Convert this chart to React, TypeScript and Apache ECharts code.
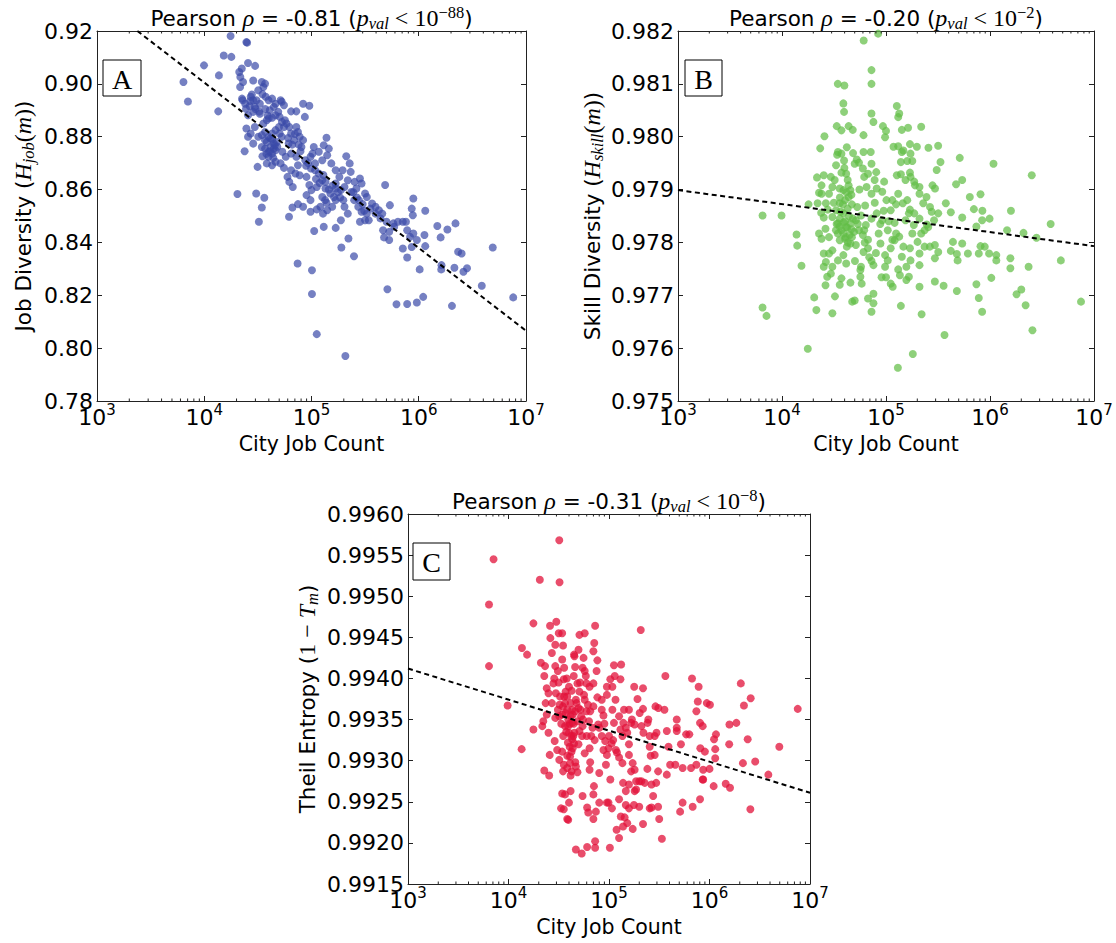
import React, { useEffect, useRef } from "react";
import * as echarts from "echarts";

// ---------- DATA ----------
const xAxisMin = 1e3;
const xAxisMax = 1e7;
const minorTickValues = [
  2e3, 3e3, 4e3, 5e3, 6e3, 7e3, 8e3, 9e3,
  2e4, 3e4, 4e4, 5e4, 6e4, 7e4, 8e4, 9e4,
  2e5, 3e5, 4e5, 5e5, 6e5, 7e5, 8e5, 9e5,
  2e6, 3e6, 4e6, 5e6, 6e6, 7e6, 8e6, 9e6,
];

const yRangeA = [0.78, 0.92, 0.02];
const yRangeB = [0.975, 0.982, 0.001];
const yRangeC = [0.9915, 0.996, 0.0005];

const titleTextA = ["-0.81", "−88"];
const titleTextB = ["-0.20", "−2"];
const titleTextC = ["-0.31", "−8"];

const fitA: [number, number][] = [[2380, 0.92], [1e7, 0.8066]];
const fitB: [number, number][] = [[1e3, 0.97899], [1e7, 0.97793]];
const fitC: [number, number][] = [[1e3, 0.99412], [1e7, 0.99261]];

const pointsA: [number, number][] = [
  [6400,0.9007],[7050,0.8933],[9950,0.9070],[13700,0.9032],[13500,0.8896],[15200,0.9107],[17600,0.9181],[17900,0.9102],[24700,0.9158],[25100,0.9156],[25600,0.9079],[29800,0.9068],[21200,0.9045],[22400,0.9058],[21700,0.9026],[23000,0.9007],[21600,0.8988],[22500,0.8944],[20400,0.8583],[23800,0.8745],[24700,0.8831],[25600,0.8800],[28600,0.8774],[31400,0.8686],[30500,0.8585],[36300,0.8569],[34400,0.8532],[32300,0.8478],
  [24100,0.8925],[26500,0.8915],[28600,0.8938],[27100,0.8951],[29600,0.8913],[24500,0.8906],[30700,0.8938],[28600,0.8894],[28600,0.9013],[34400,0.9007],[35600,0.8988],[36900,0.9001],[34900,0.8961],[37400,0.8951],[39800,0.8938],[42900,0.8944],[46200,0.8925],[44500,0.8913],[40800,0.8900],[51500,0.8938],[52700,0.8932],[55400,0.8919],[49000,0.8894],[50500,0.8875],[46200,0.8881],[42900,0.8872],[38300,0.8862],[35600,0.8850],[33000,0.8887],[83500,0.8925],[95500,0.8917],[64500,0.8896],[72200,0.8896],[86700,0.8875],
  [36900,0.8818],[34400,0.8806],[39800,0.8800],[42900,0.8812],[46200,0.8825],[49800,0.8837],[44500,0.8774],[41400,0.8761],[46200,0.8749],[42900,0.8736],[39800,0.8724],[36900,0.8755],[34400,0.8761],[31900,0.8800],[29600,0.8837],[27100,0.8812],[52700,0.8800],[55400,0.8837],[62100,0.8837],[64500,0.8812],[72200,0.8837],[74800,0.8818],[77600,0.8800],[69000,0.8787],[61200,0.8774],[53500,0.8743],[57500,0.8724],[51500,0.8699],[46200,0.8705],[42900,0.8692],[38300,0.8699],[34900,0.8726],[64500,0.8736],[72200,0.8724],[80600,0.8761],[83500,0.8787],
  [55400,0.8682],[59700,0.8648],[62100,0.8629],[66900,0.8610],[64500,0.8673],[70800,0.8661],[77600,0.8654],[74800,0.8692],[87400,0.8711],[97900,0.8724],[105000,0.8761],[117000,0.8743],[102000,0.8736],[108000,0.8699],[126000,0.8711],[140000,0.8730],[130000,0.8768],[138000,0.8796],[145000,0.8755],
  [89800,0.8648],[95500,0.8617],[100000,0.8598],[89800,0.8579],[97900,0.8560],[108000,0.8673],[117000,0.8661],[126000,0.8635],[112000,0.8610],[135000,0.8604],[126000,0.8572],[121000,0.8535],[134000,0.8560],[150000,0.8585],[162000,0.8572],[168000,0.8560],[156000,0.8535],[140000,0.8522],[128000,0.8509],[138000,0.8550],
  [153000,0.8699],[168000,0.8673],[182000,0.8648],[195000,0.8673],[211000,0.8726],[227000,0.8699],[232000,0.8667],[218000,0.8635],[203000,0.8610],[235000,0.8591],[188000,0.8598],[168000,0.8604],[168000,0.8623],
  [252000,0.8629],[262000,0.8604],[283000,0.8642],[293000,0.8623],[316000,0.8585],[277000,0.8560],[250000,0.8560],[273000,0.8535],[293000,0.8516],[328000,0.8509],[355000,0.8528],[367000,0.8547],[316000,0.8484],[283000,0.8478],[342000,0.8484],[395000,0.8509],
  [425000,0.8522],[440000,0.8491],[486000,0.8617],[538000,0.8541],[501000,0.8478],[465000,0.8446],[530000,0.8440],[580000,0.8472],[640000,0.8478],[710000,0.8478],[760000,0.8478],[475000,0.8419],[530000,0.8409],[590000,0.8459],
  [780000,0.8446],[830000,0.8421],[890000,0.8434],[890000,0.8566],[960000,0.8409],[880000,0.8503],[860000,0.8528],[1150000,0.8520],[1130000,0.8428],[1150000,0.8386],[710000,0.8377],[780000,0.8343],[860000,0.8383],[1020000,0.8298],[1490000,0.8462],[1600000,0.8419],[1850000,0.8449],[2200000,0.8472],[2330000,0.8365],[2510000,0.8358],[2610000,0.8289],[2820000,0.8302],[2150000,0.8304],[1630000,0.8314],[1620000,0.8298],[3870000,0.8236],[4900000,0.8381],[7600000,0.8192],[2040000,0.8160],[1100000,0.8194],[960000,0.8173],[780000,0.8167],[620000,0.8166],[510000,0.8223],
  [249000,0.8348],[221000,0.8415],[190000,0.8381],[168000,0.8455],[130000,0.8459],[106000,0.8443],[101000,0.8295],[101000,0.8205],[112000,0.8053],[74200,0.8320],[207000,0.7970],
  [61700,0.8497],[66400,0.8532],[74800,0.8545],[83500,0.8535],[97900,0.8516],[112000,0.8525],[135000,0.8629],[203000,0.8535],[218000,0.8509],[188000,0.8484],[328000,0.8572],[395000,0.8535],[457000,0.8509],
  [38300,0.8780],[41400,0.8793],[44500,0.8755],[39800,0.8743],[36900,0.8787],[25600,0.8881],[22800,0.8938],[31900,0.8976],[33000,0.8925],
  [40000,0.8870],[43000,0.8790],[45500,0.8768],[47500,0.8780],[41000,0.8745],[38000,0.8735],[44000,0.8720],[48000,0.8762],[50500,0.8812],[53000,0.8856],[56500,0.8862],[58500,0.8850],[60500,0.8795],[66000,0.8770],[70000,0.8810],[76000,0.8770],[79000,0.8745],[89000,0.8690],[93000,0.8700],[99000,0.8680],[110000,0.8640],[119000,0.8625],[129000,0.8655],[145000,0.8600],[157000,0.8615],[176000,0.8590],[185000,0.8570],[198000,0.8560],[245000,0.8590],[265000,0.8570],[300000,0.8545],[310000,0.8520],[30000,0.8905],[32500,0.8895],[26800,0.8935],[27800,0.8960],[37000,0.8905],[39000,0.8880],
];

const pointsB: [number, number][] = [
  [6500,0.97851],[9900,0.97851],[6500,0.97677],[7100,0.97661],[13800,0.97815],[14000,0.97794],[15400,0.97756],[17700,0.97599],[18000,0.97872],[21400,0.97672],[20400,0.97696],[21700,0.97923],[23300,0.97978],[25600,0.98001],[22000,0.97874],[22700,0.97894],[24000,0.97892],[25200,0.97927],[24000,0.97908],[23800,0.97856],[22700,0.97817],[24000,0.97807],[25200,0.97847],[26200,0.97826],[26400,0.97874],[28300,0.97892],[29500,0.97924],[30500,0.97905],[32100,0.97918],[33100,0.97946],[33900,0.97966],[34500,0.97971],[33600,0.98020],[37300,0.98012],[34400,0.98100],[39800,0.98097],[38900,0.98063],[39500,0.98047],[43700,0.98020],[47900,0.98013],[42000,0.97980],[37300,0.97968],[39500,0.97955],[39800,0.97941],[41400,0.97930],[37300,0.97932],[48200,0.97969],[52400,0.97957],[50000,0.97949],[55000,0.97951],[45500,0.97899],[43700,0.97908],[42800,0.97918],[38900,0.97899],[35900,0.97902],[40400,0.97880],[43700,0.97886],[35900,0.97874],[33100,0.97861],[30500,0.97848],[35900,0.97845],[38900,0.97855],[42800,0.97864],[47000,0.97872],[52900,0.97867],[57500,0.97851],[51300,0.97842],[45500,0.97836],[41400,0.97829],[37300,0.97823],[34500,0.97817],[35900,0.97804],[40400,0.97807],[44700,0.97814],[49300,0.97820],[55000,0.97823],[59900,0.97814],[45500,0.97798],[51300,0.97795],[42000,0.97792],[38900,0.97776],[34500,0.97766],[30500,0.97785],[28300,0.97779],[26400,0.97763],[30500,0.97754],[29500,0.97741],[27200,0.97735],[25200,0.97754],[26200,0.97719],[30500,0.97666],[32300,0.97698],[35900,0.97720],[37300,0.97732],[45500,0.97724],[41400,0.97760],[50300,0.97765],[57500,0.97754],[56700,0.97735],[58400,0.97722],[56700,0.97748],[47300,0.97688],[50000,0.97690],[67100,0.97694],[75700,0.97685],[75700,0.97703],[72500,0.97669],[60800,0.97782],[67100,0.97789],[72500,0.97765],[75700,0.97757],[61700,0.97823],[67100,0.97805],[64000,0.97833],[72500,0.97845],[81400,0.97855],[92000,0.97842],[85000,0.97817],[88400,0.97798],[98000,0.97776],[104000,0.97766],[98000,0.97754],[111000,0.97789],[121000,0.97804],[104000,0.97823],[121000,0.97837],[111000,0.97861],[101000,0.97880],[92000,0.97896],[96000,0.97915],[81400,0.97902],[72500,0.97892],[65000,0.97905],[61700,0.97924],[72500,0.97949],[71300,0.97971],[67100,0.97930],[77700,0.97918],[80600,0.97933],[59900,0.97940],[60800,0.97971],[60800,0.98003],[72500,0.98044],[75700,0.98028],[72500,0.98100],[72500,0.98126],[61000,0.98182],[84000,0.98195],[93500,0.98020],[98000,0.97999],[100000,0.98011],[118000,0.97981],[131000,0.97982],[134000,0.98044],[127000,0.98058],[131000,0.98037],[142000,0.98013],[163000,0.98017],[218000,0.98019],[198000,0.97981],[170000,0.97986],[172000,0.97968],[147000,0.97974],[142000,0.97971],[139000,0.97952],[160000,0.97954],[179000,0.97954],[127000,0.97927],[139000,0.97929],[154000,0.97918],[170000,0.97932],[172000,0.97924],[187000,0.97915],[190000,0.97908],[210000,0.97905],[256000,0.97979],[317000,0.97983],[334000,0.97952],[307000,0.97937],[280000,0.97908],[296000,0.97902],[210000,0.97892],[245000,0.97886],[228000,0.97874],[265000,0.97867],[275000,0.97858],[318000,0.97855],[290000,0.97842],[255000,0.97829],[235000,0.97823],[218000,0.97817],[201000,0.97801],[235000,0.97792],[264000,0.97792],[295000,0.97795],[318000,0.97782],[295000,0.97770],[210000,0.97779],[210000,0.97757],[172000,0.97766],[170000,0.97789],[147000,0.97792],[142000,0.97773],[157000,0.97754],[131000,0.97749],[136000,0.97738],[166000,0.97735],[157000,0.97729],[116000,0.97716],[111000,0.97722],[100000,0.97734],[90700,0.97734],[139000,0.97680],[134000,0.97811],[179000,0.97817],[125000,0.97817],[210000,0.97716],[295000,0.97726],[358000,0.97718],[220000,0.97664],[365000,0.97625],[181000,0.97589],[130000,0.97563],[376000,0.97874],[420000,0.97857],[440000,0.97801],[420000,0.97784],[488000,0.97766],[480000,0.97778],[540000,0.97798],[540000,0.97847],[472000,0.97910],[540000,0.97918],[512000,0.97960],[613000,0.97779],[640000,0.97886],[700000,0.97863],[740000,0.97830],[810000,0.97891],[845000,0.97860],[840000,0.97842],[990000,0.97845],[890000,0.97792],[810000,0.97793],[780000,0.97779],[980000,0.97779],[1150000,0.97776],[1150000,0.97766],[740000,0.97721],[780000,0.97695],[840000,0.97669],[480000,0.97708],[1030000,0.97733],[1080000,0.97949],[1590000,0.97860],[1460000,0.97823],[1570000,0.97770],[1570000,0.97751],[1800000,0.97702],[2000000,0.97711],[2100000,0.97818],[2200000,0.97681],[2350000,0.97754],[2520000,0.97927],[2560000,0.97634],[2800000,0.97809],[3830000,0.97835],[4800000,0.97766],[7500000,0.97688],[187000,0.97855],[170000,0.97862],[160000,0.97880],[145000,0.97874],[125000,0.97872],[131000,0.97892],[115000,0.97880],[154000,0.97842],[166000,0.97855],[185000,0.97833],[247000,0.97834],[210000,0.97845],[25200,0.97779],[28300,0.97810],[33000,0.97823],[34500,0.97836],[38900,0.97817],[35900,0.97830],
  [40500,0.97840],[42500,0.97828],[44000,0.97850],[39000,0.97838],[41000,0.97810],[43000,0.97800],[46500,0.97825],[48000,0.97845],[36500,0.97858],[38500,0.97872],[33500,0.97835],[47000,0.97810],[53500,0.97835],[62500,0.97800],[69000,0.97772],[80000,0.97780],[88000,0.97835],[95000,0.97860],[106000,0.97840],[115000,0.97805],[27500,0.97862],[31500,0.97875],[36000,0.97885],[41500,0.97895],[46500,0.97890],[55500,0.97900],[63000,0.97870],[78000,0.97875],
];

const pointsC: [number, number][] = [
  [7100,0.99545],[6400,0.99490],[6400,0.99415],[9800,0.99367],[13500,0.99314],[13600,0.99437],[15300,0.99429],[17700,0.99467],[17700,0.99338],[20500,0.99520],[21000,0.99419],[22700,0.99403],[23100,0.99415],[24000,0.99388],[25000,0.99382],[23400,0.99370],[24000,0.99356],[22200,0.99348],[21700,0.99342],[25000,0.99334],[22700,0.99288],[25400,0.99282],[25700,0.99307],[26100,0.99449],[25900,0.99464],[29900,0.99469],[32000,0.99568],[32200,0.99517],[29200,0.99441],[27000,0.99431],[29200,0.99415],[31000,0.99409],[28000,0.99394],[29600,0.99382],[32600,0.99378],[27000,0.99370],[29200,0.99352],[32000,0.99354],[34800,0.99366],[35800,0.99378],[31600,0.99455],[34200,0.99455],[34900,0.99440],[34200,0.99423],[35800,0.99413],[35500,0.99399],[37000,0.99384],[38400,0.99378],[40000,0.99390],[41500,0.99370],[37000,0.99358],[39300,0.99350],[43000,0.99346],[36500,0.99342],[40000,0.99334],[43000,0.99326],[44900,0.99321],[40600,0.99317],[38400,0.99306],[34200,0.99311],[30500,0.99313],[28800,0.99324],[32000,0.99301],[35500,0.99295],[38400,0.99291],[42400,0.99287],[46800,0.99293],[48500,0.99286],[41500,0.99282],[34900,0.99287],[34200,0.99260],[36500,0.99259],[33300,0.99242],[35500,0.99241],[40000,0.99249],[41500,0.99263],[38400,0.99229],[39300,0.99228],[46800,0.99192],[53500,0.99187],
  [44900,0.99429],[45300,0.99427],[46000,0.99414],[44600,0.99403],[48500,0.99394],[50800,0.99384],[46800,0.99374],[49700,0.99364],[52800,0.99354],[48500,0.99348],[54600,0.99342],[50800,0.99336],[54000,0.99330],[49700,0.99320],[57300,0.99309],[50800,0.99453],[49700,0.99435],[54600,0.99413],[57300,0.99455],[55800,0.99425],[57300,0.99409],[58800,0.99403],[59700,0.99394],[57300,0.99374],[61700,0.99368],[65000,0.99360],[63200,0.99348],[68500,0.99340],[66600,0.99330],[64100,0.99315],[65000,0.99298],[64100,0.99289],[54600,0.99257],[60600,0.99243],[62200,0.99237],[69900,0.99229],[60600,0.99195],[72800,0.99202],[72800,0.99194],[70800,0.99269],[69900,0.99259],[74000,0.99238],[80000,0.99249],[80000,0.99285],[69900,0.99433],[71300,0.99443],[72800,0.99464],[76600,0.99422],[75200,0.99409],[69900,0.99394],[76600,0.99377],[84700,0.99374],[84700,0.99362],[88000,0.99355],[78100,0.99344],[84700,0.99330],[91600,0.99324],[88000,0.99313],[98800,0.99315],[106000,0.99321],[95200,0.99307],[117000,0.99313],[93200,0.99295],[103000,0.99277],[95200,0.99249],[102000,0.99194],[119000,0.99216],[126000,0.99206],[107000,0.99242],[98800,0.99249],[126000,0.99253],[131000,0.99232],[143000,0.99231],[138000,0.99220],
  [103000,0.99399],[95200,0.99390],[114000,0.99403],[112000,0.99416],[108000,0.99390],[116000,0.99374],[126000,0.99354],[112000,0.99346],[108000,0.99362],[130000,0.99399],[132000,0.99417],[130000,0.99338],[136000,0.99330],[126000,0.99304],[136000,0.99297],[138000,0.99273],[147000,0.99263],[158000,0.99271],[166000,0.99287],[172000,0.99297],[180000,0.99289],[158000,0.99307],[158000,0.99320],[152000,0.99334],[147000,0.99340],[139000,0.99346],[166000,0.99346],[169000,0.99350],[158000,0.99362],[141000,0.99362],[178000,0.99390],[192000,0.99375],[202000,0.99358],[218000,0.99363],[218000,0.99388],[207000,0.99459],[180000,0.99344],[210000,0.99342],[220000,0.99334],[242000,0.99346],[246000,0.99350],[254000,0.99330],[285000,0.99330],[297000,0.99334],[290000,0.99366],[310000,0.99364],[356000,0.99362],[364000,0.99403],[260000,0.99306],[254000,0.99317],[285000,0.99307],[308000,0.99287],[241000,0.99290],[227000,0.99273],[200000,0.99275],[210000,0.99275],[186000,0.99275],[180000,0.99263],[177000,0.99246],[147000,0.99246],[158000,0.99242],[200000,0.99244],[254000,0.99242],[275000,0.99257],[265000,0.99271],[295000,0.99273],[265000,0.99243],[308000,0.99244],[316000,0.99229],[336000,0.99205],[218000,0.99223],[172000,0.99217],[152000,0.99224],[186000,0.99265],
  [376000,0.99336],[391000,0.99317],[376000,0.99283],[406000,0.99295],[457000,0.99295],[472000,0.99336],[472000,0.99350],[472000,0.99340],[520000,0.99320],[540000,0.99291],[585000,0.99332],[630000,0.99332],[540000,0.99249],[510000,0.99238],[680000,0.99244],[655000,0.99291],[740000,0.99295],[670000,0.99400],[740000,0.99360],[765000,0.99372],[780000,0.99390],[805000,0.99346],[855000,0.99342],[940000,0.99370],[1010000,0.99368],[810000,0.99315],[900000,0.99311],[865000,0.99289],[1000000,0.99290],[855000,0.99277],[865000,0.99277],[805000,0.99253],[1110000,0.99326],[1160000,0.99332],[1140000,0.99314],[1140000,0.99303],[1100000,0.99269],[1450000,0.99272],[1600000,0.99267],[1580000,0.99344],[1570000,0.99320],[1850000,0.99346],[2050000,0.99394],[2200000,0.99367],[2150000,0.99297],[2570000,0.99376],[2400000,0.99326],[2550000,0.99241],[2850000,0.99299],[3850000,0.99283],[4950000,0.99317],[7550000,0.99363],[95200,0.99380],[69900,0.99366],[59700,0.99360],[64100,0.99390],[43000,0.99362],[43600,0.99356],[41500,0.99354],[45300,0.99334],[44200,0.99330],[39300,0.99342],[42400,0.99311],[46200,0.99298],[40900,0.99297],[32200,0.99368],[31000,0.99362],[34200,0.99356],
  [36500,0.99370],[38500,0.99362],[40500,0.99345],[42000,0.99330],[43500,0.99315],[39000,0.99322],[37500,0.99335],[41000,0.99305],[44500,0.99345],[46000,0.99360],[33500,0.99345],[35000,0.99330],[47500,0.99370],[52000,0.99362],[55000,0.99350],[60000,0.99330],[72000,0.99325],[80000,0.99340],[90000,0.99345],[100000,0.99330],[110000,0.99325],[120000,0.99310],[28500,0.99400],[31500,0.99395],[38000,0.99400],[42500,0.99385],[51500,0.99395],[56500,0.99380],
];

// ---------- LAYOUT / STYLE ----------
const SANS = "DejaVu Sans";
const SERIF = "Liberation Serif";
const FRAME = "#222";

const grids = [
  { left: 97, top: 31, width: 429, height: 370 },
  { left: 678, top: 31, width: 416, height: 370 },
  { left: 408, top: 514, width: 402, height: 370 },
];

const panelDefs = [
  { pts: pointsA, fit: fitA, yr: yRangeA, dec: 2, color: "#3a4aa8", opacity: 0.7, title: titleTextA,
    yname: "{t|Job Diversity (}{m|H}{sub|job}{r|(}{m|m}{r|)}{t|)}", letter: "A",
    yNameX: 23, box: [103, 60, 38, 36] },
  { pts: pointsB, fit: fitB, yr: yRangeB, dec: 3, color: "#62be46", opacity: 0.72, title: titleTextB,
    yname: "{t|Skill Diversity (}{m|H}{sub|skill}{r|(}{m|m}{r|)}{t|)}", letter: "B",
    yNameX: 592, box: [685, 60, 37, 36] },
  { pts: pointsC, fit: fitC, yr: yRangeC, dec: 4, color: "#e2123a", opacity: 0.75, title: titleTextC,
    yname: "{t|Theil Entropy (}{r|1 − }{m|T}{sub|m}{t|)}", letter: "C",
    yNameX: 307, box: [413, 543, 37, 37] },
];

const textRich = {
  t: { fontFamily: SANS, fontSize: 21.5, fill: "#000", lineHeight: 28 },
  m: { fontFamily: SERIF, fontStyle: "italic", fontSize: 24, fill: "#000", lineHeight: 28 },
  r: { fontFamily: SERIF, fontSize: 24, fill: "#000", lineHeight: 28 },
  sub: { fontFamily: SERIF, fontStyle: "italic", fontSize: 16.5, fill: "#000", lineHeight: 14, verticalAlign: "bottom" },
  sup: { fontFamily: SERIF, fontSize: 16.5, fill: "#000", lineHeight: 14, verticalAlign: "top" },
};

function buildOption() {
  const xAxis: any[] = [];
  const yAxis: any[] = [];
  const series: any[] = [];
  const graphic: any[] = [];

  panelDefs.forEach((p, i) => {
    const [yMin, yMax, yInt] = p.yr;
    const baseX = {
      type: "log", logBase: 10, gridIndex: i, min: xAxisMin, max: xAxisMax,
      axisLine: { show: true, onZero: false, lineStyle: { color: FRAME, width: 1 } },
      axisTick: { show: true, inside: true, length: 5, lineStyle: { color: FRAME, width: 1 } },
      splitLine: { show: false },
    };
    xAxis.push({
      ...baseX, position: "bottom",
      axisLabel: {
        show: true, margin: 1,
        formatter: (v: number) => `{b|10}{s|${Math.round(Math.log10(v))}}`,
        rich: {
          b: { fontFamily: SANS, fontSize: 22, lineHeight: 30, color: "#000" },
          s: { fontFamily: SANS, fontSize: 15, lineHeight: 12, verticalAlign: "top", color: "#000" },
        },
      },
    });
    xAxis.push({ ...baseX, position: "top", axisLabel: { show: false } });

    const baseY = {
      type: "value", gridIndex: i, min: yMin, max: yMax, interval: yInt,
      axisLine: { show: true, onZero: false, lineStyle: { color: FRAME, width: 1 } },
      axisTick: { show: true, inside: true, length: 5, lineStyle: { color: FRAME, width: 1 } },
      splitLine: { show: false },
    };
    yAxis.push({
      ...baseY, position: "left",
      axisLabel: {
        show: true, margin: 4, fontFamily: SANS, fontSize: 22, color: "#000",
        formatter: (v: number) => v.toFixed(p.dec),
      },
    });
    yAxis.push({ ...baseY, position: "right", axisLabel: { show: false } });

    const xi = i * 2;
    const yi = i * 2;
    series.push({
      type: "scatter", xAxisIndex: xi, yAxisIndex: yi, data: p.pts,
      symbol: "circle", symbolSize: 8, silent: true, z: 2,
      itemStyle: { color: p.color, opacity: p.opacity, borderWidth: 0 },
    });
    series.push({
      type: "line", xAxisIndex: xi, yAxisIndex: yi, data: p.fit, silent: true, z: 3,
      symbol: "none", showSymbol: false, clip: true,
      lineStyle: { color: "#000", width: 2, type: [5, 3.5] },
    });
    series.push({
      type: "custom", xAxisIndex: xi, yAxisIndex: yi, silent: true, z: 4, clip: false,
      data: minorTickValues.map((v) => [v, yMin]),
      renderItem: (params: any, api: any) => {
        const cs = params.coordSys;
        const px = api.coord([api.value(0), api.value(1)])[0];
        const top = cs.y;
        const bot = cs.y + cs.height;
        return {
          type: "group",
          children: [
            { type: "line", shape: { x1: px, y1: bot, x2: px, y2: bot - 2.5 }, style: { stroke: FRAME, lineWidth: 1 } },
            { type: "line", shape: { x1: px, y1: top, x2: px, y2: top + 2.5 }, style: { stroke: FRAME, lineWidth: 1 } },
          ],
        };
      },
    });

    const g = grids[i];
    const cx = g.left + g.width / 2;
    graphic.push({
      type: "text", x: cx, y: g.top - 13, z: 10,
      style: {
        text: `{t|Pearson }{m|ρ}{t| = ${p.title[0]} (}{m|p}{sub|val}{r| < 10}{sup|${p.title[1]}}{t|)}`,
        rich: textRich, align: "center", verticalAlign: "middle",
      },
    });
    graphic.push({
      type: "text", x: cx, y: g.top + g.height + 43, z: 10,
      style: { text: "City Job Count", fontFamily: SANS, fontSize: 20.5, fill: "#000", align: "center", verticalAlign: "middle" },
    });
    graphic.push({
      type: "text", x: p.yNameX, y: g.top + g.height / 2, rotation: Math.PI / 2, z: 10,
      style: { text: p.yname, rich: textRich, align: "center", verticalAlign: "middle" },
    });
    const [bx, by, bw, bh] = p.box;
    graphic.push({
      type: "rect", z: 10, shape: { x: bx, y: by, width: bw, height: bh },
      style: { fill: "#fff", stroke: "#000", lineWidth: 1 },
    });
    graphic.push({
      type: "text", z: 11, x: bx + bw / 2, y: by + bh / 2 + 1,
      style: { text: p.letter, fontFamily: SERIF, fontSize: 28, fill: "#000", align: "center", verticalAlign: "middle" },
    });
  });

  return {
    animation: false,
    backgroundColor: "#fff",
    textStyle: { fontFamily: SANS },
    grid: grids.map((g) => ({ ...g, containLabel: false })),
    xAxis,
    yAxis,
    series,
    graphic,
  };
}

export default function App() {
  const ref = useRef<HTMLDivElement>(null);
  useEffect(() => {
    if (!ref.current) return;
    const chart = echarts.init(ref.current, undefined, { renderer: "svg" });
    chart.setOption(buildOption() as any);
    return () => chart.dispose();
  }, []);
  return (
    <div
      ref={ref}
      style={{ position: "fixed", left: 0, top: 0, width: 1116, height: 943, background: "#fff" }}
    />
  );
}
